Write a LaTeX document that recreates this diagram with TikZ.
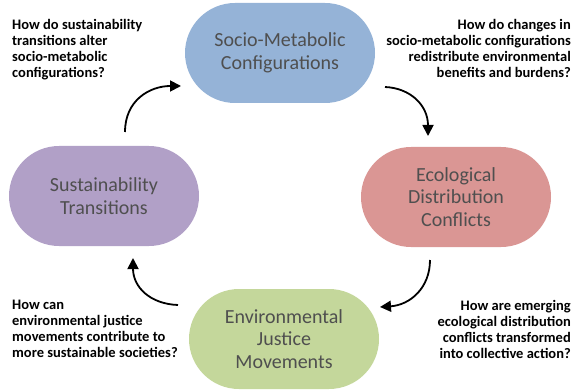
\documentclass[tikz,border=0pt]{standalone}
\usepackage{fontspec}
\setmainfont{Carlito}
\usetikzlibrary{arrows.meta}

\definecolor{smcblue}{HTML}{95B3D7}
\definecolor{edcred}{HTML}{DA9694}
\definecolor{stpurple}{HTML}{B1A0C7}
\definecolor{ejmgreen}{HTML}{C4D79B}
\definecolor{stagetext}{HTML}{4F4F4F}

\tikzset{
  stage/.style={rectangle, rounded corners=50pt, minimum width=190pt, minimum height=100pt,
    inner sep=0pt, align=center, text=stagetext, font=\fontsize{20}{22.5}\selectfont},
  question/.style={inner sep=0pt, font=\bfseries\fontsize{14.5}{16}\selectfont},
  cyclearrow/.style={line width=1.8pt, -{Triangle[length=11pt,width=11pt]}}
}

\begin{document}
\begin{tikzpicture}[x=1pt, y=-1pt]
  \useasboundingbox (0,0) rectangle (577,390);

  % 四つの段階
  \node[stage, fill=smcblue]  (smc) at (280,53)  {Socio-Metabolic\\Configurations};
  \node[stage, fill=edcred]   (edc) at (456,197) {Ecological\\Distribution\\Conflicts};
  \node[stage, fill=ejmgreen] (ejm) at (284,339) {Environmental\\Justice\\Movements};
  \node[stage, fill=stpurple] (st)  at (104,196) {Sustainability\\Transitions};

  % 問い
  \node[question, anchor=north west, align=left]  (qst)  at (12,19)
    {How do sustainability\\transitions alter\\socio-metabolic\\configurations?};
  \node[question, anchor=north east, align=right] (qsmc) at (571,19)
    {How do changes in\\socio-metabolic configurations\\redistribute environmental\\benefits and burdens?};
  \node[question, anchor=north west, align=left]  (qejm) at (12,300)
    {How can\\environmental justice\\movements contribute to\\more sustainable societies?};
  \node[question, anchor=north east, align=right] (qedc) at (571,300)
    {How are emerging\\ecological distribution\\conflicts transformed\\into collective action?};

  % 循環の矢印
  \coordinate (st-out)  at (125,132);
  \coordinate (smc-in)  at (181,86);
  \coordinate (smc-out) at (385,87);
  \coordinate (edc-in)  at (428,136);
  \coordinate (edc-out) at (430,260);
  \coordinate (ejm-in)  at (380,307);
  \coordinate (ejm-out) at (178,305);
  \coordinate (st-in)   at (133,258);

  \draw[cyclearrow] (st-out)  .. controls (125,100) and (150,86)  .. (smc-in);
  \draw[cyclearrow] (smc-out) .. controls (410,88)  and (428,105) .. (edc-in);
  \draw[cyclearrow] (edc-out) .. controls (430,288) and (410,305) .. (ejm-in);
  \draw[cyclearrow] (ejm-out) .. controls (150,304) and (133,287) .. (st-in);
\end{tikzpicture}
\end{document}
